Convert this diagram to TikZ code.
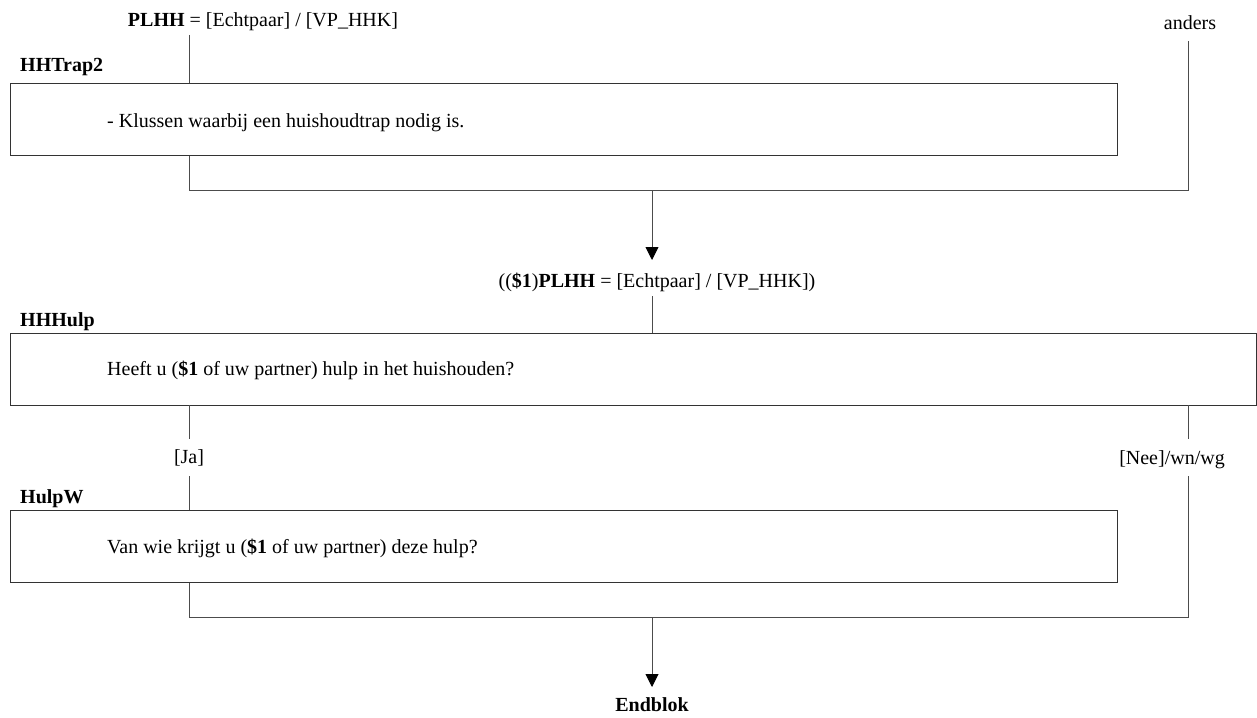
\documentclass[tikz,border=0pt]{standalone}
\usepackage{fontspec}
\setmainfont{Liberation Serif}
\usetikzlibrary{arrows.meta}
\begin{document}
\begin{tikzpicture}[x=1pt,y=-1pt,
  every node/.style={font=\fontsize{20}{24}\selectfont, inner sep=0pt},
  qbox/.style={draw=black!80, line width=0.9pt, anchor=north west, minimum height=72pt},
  conn/.style={draw=black!70, line width=0.9pt},
  arr/.style={conn, -{Triangle[length=13pt,width=13pt,color=black]}}]
\useasboundingbox (0,0) rectangle (1257,717);

% block 1
\node[anchor=base] (t1) at (263,27) {\textbf{PLHH} = [Echtpaar] / [VP\_HHK]};
\node[anchor=base] (anders) at (1190,30) {anders};
\node[anchor=base west] (n1) at (20,71) {\textbf{HHTrap2}};
\node[qbox, minimum width=1107pt] (b1) at (10,83) {};
\node[anchor=base west] (q1) at (107,127) {- Klussen waarbij een huishoudtrap nodig is.};
\coordinate (c1) at (189,35);
\coordinate (c2) at (1188,41);
\coordinate (j1) at (189,190);
\coordinate (j2) at (1188,190);
\coordinate (m1) at (652,190);
\draw[conn] (c1) -- (c1 |- b1.north);
\draw[conn] (c1 |- b1.south) -- (j1) -- (j2) -- (c2);

% block 2
\node[anchor=base] (t2) at (657,287) {((\textbf{\$1})\textbf{PLHH} = [Echtpaar] / [VP\_HHK])};
\draw[arr] (m1) -- (652,260);
\node[anchor=base west] (n2) at (20,326) {\textbf{HHHulp}};
\node[qbox, minimum width=1246pt] (b2) at (10,333) {};
\node[anchor=base west] (q2) at (107,375) {Heeft u (\textbf{\$1} of uw partner) hulp in het huishouden?};
\coordinate (c3) at (652,296);
\draw[conn] (c3) -- (c3 |- b2.north);

\node[anchor=base] (ja) at (189,463) {[Ja]};
\node[anchor=base] (nee) at (1172,464) {[Nee]/wn/wg};
\draw[conn] (189,405) -- (189,439);
\draw[conn] (1188,405) -- (1188,439);

% block 3
\node[anchor=base west] (n3) at (20,503) {\textbf{HulpW}};
\node[qbox, minimum width=1107pt] (b3) at (10,510) {};
\node[anchor=base west] (q3) at (107,553) {Van wie krijgt u (\textbf{\$1} of uw partner) deze hulp?};
\coordinate (c4) at (189,476);
\coordinate (c5) at (1188,476);
\coordinate (j3) at (189,617);
\coordinate (j4) at (1188,617);
\coordinate (m2) at (652,617);
\draw[conn] (c4) -- (c4 |- b3.north);
\draw[conn] (c4 |- b3.south) -- (j3) -- (j4) -- (c5);

\node[anchor=base] (end) at (652,711) {\textbf{Endblok}};
\draw[arr] (m2) -- (end.north |- 0,687);
\end{tikzpicture}
\end{document}
